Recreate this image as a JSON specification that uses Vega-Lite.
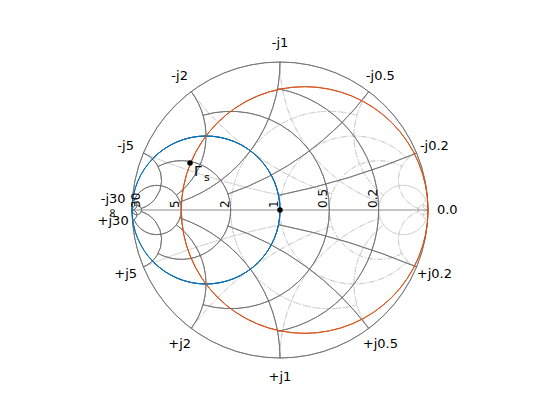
{
  "$schema": "https://vega.github.io/schema/vega-lite/v6.json",
  "width": 560,
  "height": 420,
  "padding": 0,
  "autosize": {"type": "none"},
  "background": "white",
  "config": {"view": {"stroke": null}, "text": {"font": "DejaVu Sans"}},
  "datasets": {
    "grid": [
      {"k": "Y", "cu": 0, "cv": 0, "r": 1, "t1": 0, "t2": 360},
      {"k": "Y", "cu": -0.16667, "cv": 0, "r": 0.83333, "t1": 10.39, "t2": 169.61},
      {"k": "Y", "cu": -0.33333, "cv": 0, "r": 0.66667, "t1": -16.26, "t2": 196.26},
      {"k": "Y", "cu": -0.5, "cv": 0, "r": 0.5, "t1": -46.4, "t2": 226.4},
      {"k": "Y", "cu": -0.66667, "cv": 0, "r": 0.33333, "t1": -28.07, "t2": 208.07},
      {"k": "Y", "cu": -0.83333, "cv": 0, "r": 0.16667, "t1": -67.38, "t2": 247.38},
      {"k": "Y", "cu": -0.96774, "cv": 0, "r": 0.03226, "t1": 0, "t2": 360},
      {"k": "Y", "cu": -1, "cv": -5, "r": 5, "t1": 11.42, "t2": 22.62},
      {"k": "Y", "cu": -1, "cv": 5, "r": 5, "t1": 157.38, "t2": 168.58},
      {"k": "Y", "cu": -1, "cv": -2, "r": 2, "t1": 18.92, "t2": 53.13},
      {"k": "Y", "cu": -1, "cv": 2, "r": 2, "t1": 126.87, "t2": 161.08},
      {"k": "Y", "cu": -1, "cv": -1, "r": 1, "t1": 18.92, "t2": 90},
      {"k": "Y", "cu": -1, "cv": 1, "r": 1, "t1": 90, "t2": 161.08},
      {"k": "Y", "cu": -1, "cv": -0.5, "r": 0.5, "t1": 36.87, "t2": 126.87},
      {"k": "Y", "cu": -1, "cv": 0.5, "r": 0.5, "t1": 53.13, "t2": 143.13},
      {"k": "Y", "cu": -1, "cv": -0.2, "r": 0.2, "t1": 18.33, "t2": 157.38},
      {"k": "Y", "cu": -1, "cv": 0.2, "r": 0.2, "t1": 22.62, "t2": 161.67},
      {"k": "Y", "cu": -1, "cv": -0.03333, "r": 0.03333, "t1": 0, "t2": 176.18},
      {"k": "Y", "cu": -1, "cv": 0.03333, "r": 0.03333, "t1": 3.82, "t2": 180},
      {"k": "Z", "cu": 0.16667, "cv": 0, "r": 0.83333, "t1": -169.61, "t2": -10.39},
      {"k": "Z", "cu": 0.33333, "cv": 0, "r": 0.66667, "t1": -196.26, "t2": 16.26},
      {"k": "Z", "cu": 0.5, "cv": 0, "r": 0.5, "t1": -226.4, "t2": 46.4},
      {"k": "Z", "cu": 0.66667, "cv": 0, "r": 0.33333, "t1": -208.07, "t2": 28.07},
      {"k": "Z", "cu": 0.83333, "cv": 0, "r": 0.16667, "t1": -247.38, "t2": 67.38},
      {"k": "Z", "cu": 0.96774, "cv": 0, "r": 0.03226, "t1": 0, "t2": 360},
      {"k": "Z", "cu": 1, "cv": -5, "r": 5, "t1": -22.62, "t2": -11.42},
      {"k": "Z", "cu": 1, "cv": 5, "r": 5, "t1": -168.58, "t2": -157.38},
      {"k": "Z", "cu": 1, "cv": -2, "r": 2, "t1": -53.13, "t2": -18.92},
      {"k": "Z", "cu": 1, "cv": 2, "r": 2, "t1": -161.08, "t2": -126.87},
      {"k": "Z", "cu": 1, "cv": -1, "r": 1, "t1": -90, "t2": -18.92},
      {"k": "Z", "cu": 1, "cv": 1, "r": 1, "t1": -161.08, "t2": -90},
      {"k": "Z", "cu": 1, "cv": -0.5, "r": 0.5, "t1": -126.87, "t2": -36.87},
      {"k": "Z", "cu": 1, "cv": 0.5, "r": 0.5, "t1": -143.13, "t2": -53.13},
      {"k": "Z", "cu": 1, "cv": -0.2, "r": 0.2, "t1": -157.38, "t2": -18.33},
      {"k": "Z", "cu": 1, "cv": 0.2, "r": 0.2, "t1": -161.67, "t2": -22.62},
      {"k": "Z", "cu": 1, "cv": -0.03333, "r": 0.03333, "t1": -176.18, "t2": 0},
      {"k": "Z", "cu": 1, "cv": 0.03333, "r": 0.03333, "t1": -180, "t2": -3.82}
    ],
    "curves": [
      {"name": "g=1", "cu": -0.5, "cv": 0, "r": 0.5, "t1": 0, "t2": 360},
      {"name": "r=0.2", "cu": 0.16667, "cv": 0, "r": 0.83333, "t1": 0, "t2": 360}
    ],
    "outer": [
      {"lab": "0.0", "t": 90},
      {"lab": "-j0.2", "t": 67.38},
      {"lab": "-j0.5", "t": 36.87},
      {"lab": "-j1", "t": 0},
      {"lab": "-j2", "t": -36.87},
      {"lab": "-j5", "t": -67.38},
      {"lab": "-j30", "t": -86.18},
      {"lab": "+j0.2", "t": 112.62},
      {"lab": "+j0.5", "t": 143.13},
      {"lab": "+j1", "t": 180},
      {"lab": "+j2", "t": 216.87},
      {"lab": "+j5", "t": 247.38},
      {"lab": "+j30", "t": 266.18}
    ],
    "axislabels": [
      {"lab": "0.2", "u": 0.66667},
      {"lab": "0.5", "u": 0.33333},
      {"lab": "1", "u": 0},
      {"lab": "2", "u": -0.33333},
      {"lab": "5", "u": -0.66667},
      {"lab": "30", "u": -0.93548}
    ],
    "points": [
      {"name": "Γs", "u": -0.608, "v": 0.318},
      {"name": "center", "u": 0, "v": 0}
    ]
  },
  "layer": [
    {
      "data": {"name": "grid"},
      "transform": [{"filter": "datum.k === 'Z'"}],
      "mark": {"type": "arc", "filled": false, "stroke": "#c8c8c8", "strokeWidth": 0.8, "strokeDash": [5, 2, 1, 2]},
      "encoding": {
        "x": {"field": "cu", "type": "quantitative", "scale": {"domain": [-1.89189, 1.89189], "nice": false, "zero": false}, "axis": null},
        "y": {"field": "cv", "type": "quantitative", "scale": {"domain": [-1.41892, 1.41892], "nice": false, "zero": false}, "axis": null},
        "radius": {"field": "r", "type": "quantitative", "scale": {"type": "linear", "domain": [0, 1], "range": [0, 148], "zero": true}},
        "radius2": {"field": "r"},
        "theta": {"field": "t1", "type": "quantitative", "stack": null, "scale": {"type": "linear", "domain": [0, 360], "range": [0, 6.283185307]}},
        "theta2": {"field": "t2"}
      }
    },
    {
      "data": {"name": "grid"},
      "transform": [{"filter": "datum.k === 'Y'"}],
      "mark": {"type": "arc", "filled": false, "stroke": "#6e6e6e", "strokeWidth": 0.8},
      "encoding": {
        "x": {"field": "cu", "type": "quantitative"},
        "y": {"field": "cv", "type": "quantitative"},
        "radius": {"field": "r", "type": "quantitative"},
        "radius2": {"field": "r"},
        "theta": {"field": "t1", "type": "quantitative", "stack": null},
        "theta2": {"field": "t2"}
      }
    },
    {
      "data": {"values": [{"u1": -1, "u2": 1, "v": 0}]},
      "mark": {"type": "rule", "stroke": "#6e6e6e", "strokeWidth": 0.8},
      "encoding": {
        "x": {"field": "u1", "type": "quantitative"},
        "x2": {"field": "u2"},
        "y": {"field": "v", "type": "quantitative"}
      }
    },
    {
      "data": {"name": "curves"},
      "mark": {"type": "arc", "filled": false, "strokeWidth": 1},
      "encoding": {
        "x": {"field": "cu", "type": "quantitative"},
        "y": {"field": "cv", "type": "quantitative"},
        "radius": {"field": "r", "type": "quantitative"},
        "radius2": {"field": "r"},
        "theta": {"field": "t1", "type": "quantitative", "stack": null},
        "theta2": {"field": "t2"},
        "stroke": {"field": "name", "type": "nominal", "scale": {"domain": ["g=1", "r=0.2"], "range": ["#0072BD", "#D95319"]}, "legend": null}
      }
    },
    {
      "data": {"name": "points"},
      "mark": {"type": "point", "filled": true, "color": "black", "size": 30, "opacity": 1},
      "encoding": {
        "x": {"field": "u", "type": "quantitative"},
        "y": {"field": "v", "type": "quantitative"}
      }
    },
    {
      "data": {"name": "points"},
      "transform": [{"filter": "datum.name === 'Γs'"}],
      "mark": {"type": "text", "text": "Γ", "fontSize": 14, "align": "left", "baseline": "middle", "dx": 4, "dy": 9, "color": "black"},
      "encoding": {
        "x": {"field": "u", "type": "quantitative"},
        "y": {"field": "v", "type": "quantitative"}
      }
    },
    {
      "data": {"name": "points"},
      "transform": [{"filter": "datum.name === 'Γs'"}],
      "mark": {"type": "text", "text": "s", "fontSize": 11, "align": "left", "baseline": "middle", "dx": 14, "dy": 15, "color": "black"},
      "encoding": {
        "x": {"field": "u", "type": "quantitative"},
        "y": {"field": "v", "type": "quantitative"}
      }
    },
    {
      "data": {"name": "outer"},
      "mark": {"type": "text", "fontSize": 13, "align": "center", "baseline": "middle", "color": "black"},
      "encoding": {
        "theta": {"field": "t", "type": "quantitative", "stack": null},
        "radius": {"datum": 1.13},
        "text": {"field": "lab"}
      }
    },
    {
      "data": {"name": "axislabels"},
      "mark": {"type": "text", "fontSize": 12, "angle": 270, "align": "left", "baseline": "alphabetic", "dx": 2, "dy": -2, "color": "black"},
      "encoding": {
        "x": {"field": "u", "type": "quantitative"},
        "y": {"datum": 0},
        "text": {"field": "lab"}
      }
    },
    {
      "data": {"values": [{"lab": "∞", "u": -1.135, "v": -0.02}]},
      "mark": {"type": "text", "fontSize": 12, "angle": 270, "align": "center", "baseline": "middle", "color": "black"},
      "encoding": {
        "x": {"field": "u", "type": "quantitative"},
        "y": {"field": "v", "type": "quantitative"},
        "text": {"field": "lab"}
      }
    }
  ]
}
